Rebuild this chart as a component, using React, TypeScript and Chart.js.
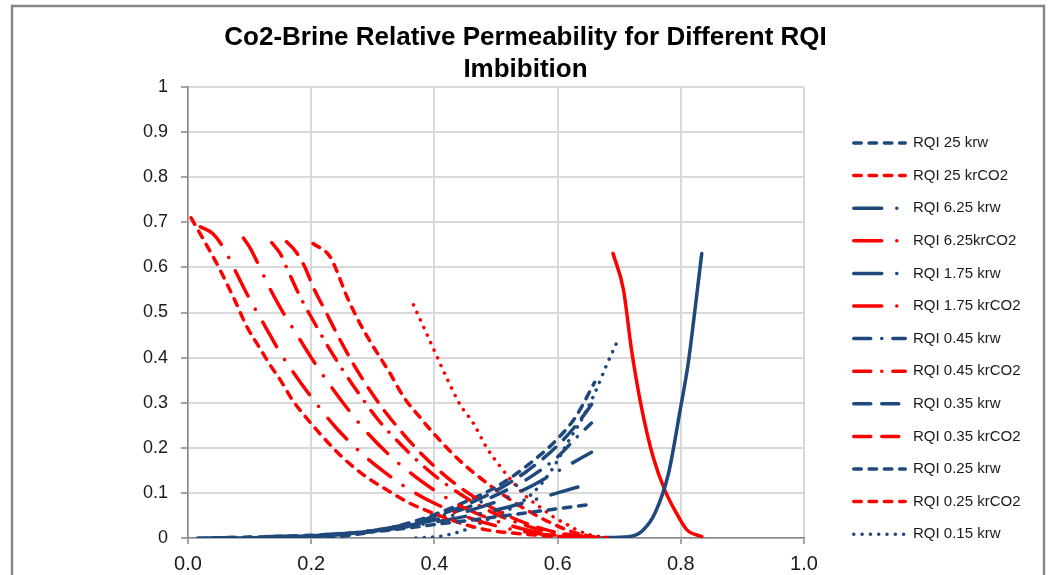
import React, { useEffect, useRef } from 'react';
import { Chart, registerables } from 'chart.js';

Chart.register(...registerables);

const titleLines = ['Co2-Brine Relative Permeability for Different RQI', 'Imbibition'];
const xTickLabels = ['0.0', '0.2', '0.4', '0.6', '0.8', '1.0'];
const yTickLabels = ['0', '0.1', '0.2', '0.3', '0.4', '0.5', '0.6', '0.7', '0.8', '0.9', '1'];

// RQI 25
const rqi25KrwX = [0.016, 0.1, 0.2, 0.3, 0.35, 0.4, 0.45, 0.5, 0.55, 0.6, 0.655];
const rqi25KrwY = [0, 0.002, 0.006, 0.014, 0.021, 0.03, 0.038, 0.047, 0.056, 0.065, 0.075];
const rqi25KrgX = [0.005, 0.03, 0.05, 0.075, 0.095, 0.117, 0.135, 0.15, 0.17, 0.19, 0.215, 0.25, 0.29, 0.325, 0.36, 0.4, 0.44, 0.485, 0.535, 0.59, 0.64, 0.68];
const rqi25KrgY = [0.71, 0.65, 0.6, 0.53, 0.47, 0.42, 0.38, 0.35, 0.305, 0.27, 0.23, 0.18, 0.135, 0.105, 0.077, 0.054, 0.034, 0.018, 0.01, 0.004, 0.002, 0.001];

// RQI 6.25
const rqi625KrwX = [0.03, 0.1, 0.2, 0.3, 0.35, 0.4, 0.45, 0.5, 0.55, 0.6, 0.655];
const rqi625KrwY = [0, 0.002, 0.006, 0.015, 0.024, 0.035, 0.048, 0.062, 0.08, 0.1, 0.122];
const rqi625KrgX = [0.02, 0.04, 0.057, 0.074, 0.1, 0.125, 0.15, 0.18, 0.21, 0.24, 0.28, 0.32, 0.36, 0.4, 0.45, 0.5, 0.55, 0.6, 0.66];
const rqi625KrgY = [0.69, 0.675, 0.645, 0.6, 0.53, 0.47, 0.41, 0.35, 0.295, 0.245, 0.19, 0.145, 0.107, 0.077, 0.048, 0.027, 0.013, 0.005, 0.001];

// RQI 1.75
const rqi175KrwX = [0.08, 0.15, 0.2, 0.25, 0.3, 0.35, 0.4, 0.45, 0.5, 0.55, 0.6, 0.655];
const rqi175KrwY = [0, 0.002, 0.005, 0.009, 0.016, 0.026, 0.04, 0.058, 0.08, 0.11, 0.148, 0.19];
const rqi175KrgX = [0.09, 0.1, 0.111, 0.13, 0.15, 0.175, 0.2, 0.23, 0.26, 0.29, 0.33, 0.37, 0.41, 0.45, 0.5, 0.55, 0.6, 0.66];
const rqi175KrgY = [0.665, 0.645, 0.616, 0.561, 0.51, 0.455, 0.4, 0.34, 0.285, 0.235, 0.18, 0.135, 0.097, 0.066, 0.038, 0.018, 0.006, 0.001];

// RQI 0.45
const rqi045KrwX = [0.12, 0.2, 0.25, 0.3, 0.35, 0.4, 0.45, 0.5, 0.55, 0.6, 0.63, 0.655];
const rqi045KrwY = [0, 0.004, 0.009, 0.017, 0.028, 0.045, 0.066, 0.095, 0.13, 0.18, 0.222, 0.255];
const rqi045KrgX = [0.136, 0.15, 0.16, 0.182, 0.2, 0.225, 0.25, 0.28, 0.31, 0.34, 0.38, 0.42, 0.46, 0.5, 0.55, 0.6, 0.66];
const rqi045KrgY = [0.655, 0.63, 0.6, 0.535, 0.49, 0.43, 0.375, 0.315, 0.26, 0.215, 0.162, 0.118, 0.082, 0.053, 0.027, 0.01, 0.001];

// RQI 0.35
const rqi035KrwX = [0.15, 0.2, 0.25, 0.3, 0.35, 0.4, 0.45, 0.5, 0.55, 0.6, 0.63, 0.66];
const rqi035KrwY = [0, 0.003, 0.008, 0.016, 0.029, 0.048, 0.073, 0.105, 0.148, 0.205, 0.25, 0.305];
const rqi035KrgX = [0.16, 0.175, 0.19, 0.203, 0.225, 0.247, 0.268, 0.295, 0.32, 0.35, 0.38, 0.42, 0.46, 0.5, 0.55, 0.6, 0.66];
const rqi035KrgY = [0.657, 0.635, 0.6, 0.557, 0.498, 0.439, 0.387, 0.328, 0.28, 0.23, 0.185, 0.135, 0.095, 0.062, 0.032, 0.012, 0.001];

// RQI 0.25
const rqi025KrwX = [0.2, 0.25, 0.3, 0.35, 0.4, 0.45, 0.5, 0.55, 0.6, 0.63, 0.66];
const rqi025KrwY = [0, 0.004, 0.014, 0.03, 0.052, 0.08, 0.113, 0.16, 0.22, 0.27, 0.345];
const rqi025KrgX = [0.203, 0.23, 0.241, 0.258, 0.279, 0.301, 0.328, 0.35, 0.375, 0.4, 0.44, 0.485, 0.52, 0.555, 0.59, 0.625, 0.66];
const rqi025KrgY = [0.653, 0.625, 0.594, 0.535, 0.476, 0.424, 0.365, 0.313, 0.27, 0.23, 0.173, 0.122, 0.088, 0.058, 0.033, 0.013, 0.002];

// RQI 0.15
const rqi015KrwX = [0.37, 0.41, 0.45, 0.485, 0.53, 0.56, 0.59, 0.62, 0.64, 0.66, 0.68, 0.7];
const rqi015KrwY = [0, 0.004, 0.018, 0.04, 0.07, 0.1, 0.15, 0.22, 0.265, 0.32, 0.385, 0.445];
const rqi015KrgX = [0.366, 0.398, 0.42, 0.442, 0.463, 0.485, 0.506, 0.53, 0.55, 0.575, 0.593, 0.615, 0.631, 0.65, 0.67];
const rqi015KrgY = [0.517, 0.421, 0.355, 0.295, 0.255, 0.2, 0.16, 0.12, 0.091, 0.065, 0.047, 0.03, 0.018, 0.008, 0.003];

// lowest-RQI pair (legend entry cut off in the original)
const rqiLowKrwX = [0.67, 0.685, 0.72, 0.739, 0.758, 0.78, 0.799, 0.812, 0.823, 0.834];
const rqiLowKrwY = [0, 0.001, 0.004, 0.018, 0.055, 0.143, 0.284, 0.387, 0.506, 0.631];
const rqiLowKrgX = [0.69, 0.707, 0.72, 0.737, 0.755, 0.774, 0.793, 0.81, 0.834];
const rqiLowKrgY = [0.631, 0.55, 0.417, 0.284, 0.18, 0.106, 0.055, 0.018, 0.003];

const BLUE = '#1F497D';
const RED = '#FF0000';
const SHORT_DASH = [7.5, 7.8];
const LONG_DASH_DOT = [28, 15, 0.1, 15];
const DASH_DOT = [17, 11, 0.1, 11];
const LONG_DASH = [17, 11];
const DOT = [0.1, 8.2];
const SOLID: number[] = [];
const LEGEND_COUNT = 13;

const pts = (xs: number[], ys: number[]) => xs.map((x, i) => ({ x, y: ys[i] }));

const mk = (label: string, xs: number[], ys: number[], color: string, dash: number[]) => ({
  label,
  data: pts(xs, ys),
  borderColor: color,
  backgroundColor: color,
  borderDash: dash,
  borderWidth: 3.5,
  borderCapStyle: 'round' as const,
  borderJoinStyle: 'round' as const,
  showLine: true,
  pointRadius: 0,
  pointHoverRadius: 0,
  cubicInterpolationMode: 'monotone' as const,
  fill: false,
});

const sideLegend = {
  id: 'sideLegend',
  afterDraw(chart: any) {
    const ctx = chart.ctx as CanvasRenderingContext2D;
    const ds = chart.data.datasets;
    ctx.save();
    for (let i = 0; i < LEGEND_COUNT; i++) {
      const d = ds[i];
      const y = 143 + i * 32.6;
      ctx.beginPath();
      ctx.setLineDash(d.borderDash || []);
      ctx.lineCap = 'round';
      ctx.lineWidth = 3.5;
      ctx.strokeStyle = d.borderColor;
      ctx.moveTo(853.75, y);
      ctx.lineTo(905.25, y);
      ctx.stroke();
      ctx.setLineDash([]);
      ctx.fillStyle = '#1a1a1a';
      ctx.font = '15px "Liberation Sans"';
      ctx.textAlign = 'left';
      ctx.textBaseline = 'middle';
      ctx.fillText(d.label, 913, y);
    }
    ctx.strokeStyle = '#878787';
    ctx.lineWidth = 2.5;
    ctx.strokeRect(12, 6, 1032, 620);
    ctx.restore();
  },
};

export default function App() {
  const ref = useRef<HTMLCanvasElement>(null);
  useEffect(() => {
    const datasets = [
      mk('RQI 25 krw', rqi25KrwX, rqi25KrwY, BLUE, SHORT_DASH),
      mk('RQI 25 krCO2', rqi25KrgX, rqi25KrgY, RED, SHORT_DASH),
      mk('RQI 6.25 krw', rqi625KrwX, rqi625KrwY, BLUE, LONG_DASH_DOT),
      mk('RQI 6.25krCO2', rqi625KrgX, rqi625KrgY, RED, LONG_DASH_DOT),
      mk('RQI 1.75 krw', rqi175KrwX, rqi175KrwY, BLUE, LONG_DASH_DOT),
      mk('RQI 1.75 krCO2', rqi175KrgX, rqi175KrgY, RED, LONG_DASH_DOT),
      mk('RQI 0.45 krw', rqi045KrwX, rqi045KrwY, BLUE, DASH_DOT),
      mk('RQI 0.45 krCO2', rqi045KrgX, rqi045KrgY, RED, DASH_DOT),
      mk('RQI 0.35 krw', rqi035KrwX, rqi035KrwY, BLUE, LONG_DASH),
      mk('RQI 0.35 krCO2', rqi035KrgX, rqi035KrgY, RED, LONG_DASH),
      mk('RQI 0.25 krw', rqi025KrwX, rqi025KrwY, BLUE, SHORT_DASH),
      mk('RQI 0.25 krCO2', rqi025KrgX, rqi025KrgY, RED, SHORT_DASH),
      mk('RQI 0.15 krw', rqi015KrwX, rqi015KrwY, BLUE, DOT),
      mk('RQI 0.15 krCO2', rqi015KrgX, rqi015KrgY, RED, DOT),
      mk('RQI 0.05 krw', rqiLowKrwX, rqiLowKrwY, BLUE, SOLID),
      mk('RQI 0.05 krCO2', rqiLowKrgX, rqiLowKrgY, RED, SOLID),
    ];
    const chart = new Chart(ref.current as HTMLCanvasElement, {
      type: 'scatter',
      data: { datasets: datasets as any },
      options: {
        animation: false,
        responsive: false,
        devicePixelRatio: 1,
        layout: { padding: { left: 0, right: 0, top: 0, bottom: 0 } },
        plugins: {
          legend: { display: false },
          tooltip: { enabled: false },
          title: {
            display: true,
            text: titleLines,
            color: '#000000',
            font: { family: '"Liberation Sans"', size: 26, weight: 'bold', lineHeight: '32px' } as any,
            padding: { top: 22, bottom: 1 },
          },
        },
        scales: {
          x: {
            type: 'linear',
            min: 0,
            max: 1,
            afterFit: (s: any) => { s.height = 37; },
            ticks: {
              stepSize: 0.2,
              padding: 8,
              color: '#1a1a1a',
              font: { family: '"Liberation Sans"', size: 20 },
              callback: (_v: any, i: number) => xTickLabels[i],
            },
            grid: { color: '#d9d9d9', lineWidth: 2, tickColor: '#868686', tickLength: 6, tickWidth: 1.5 },
            border: { color: '#868686', width: 1.5 },
          },
          y: {
            type: 'linear',
            min: 0,
            max: 1,
            afterFit: (s: any) => { s.width = 188; },
            ticks: {
              stepSize: 0.1,
              padding: 13,
              color: '#1a1a1a',
              font: { family: '"Liberation Sans"', size: 18 },
              callback: (_v: any, i: number) => yTickLabels[i],
            },
            grid: { color: '#d9d9d9', lineWidth: 2, tickColor: '#868686', tickLength: 7, tickWidth: 1.5 },
            border: { color: '#868686', width: 1.5 },
          },
          yRight: {
            type: 'linear',
            position: 'right',
            display: true,
            afterFit: (s: any) => { s.width = 247; },
            ticks: { display: false },
            grid: { display: false, drawTicks: false },
            border: { display: false },
          },
        },
      } as any,
      plugins: [sideLegend],
    });
    return () => chart.destroy();
  }, []);
  return (
    <div style={{ position: 'absolute', left: 0, top: 0, width: 1051, height: 575, background: '#ffffff' }}>
      <canvas ref={ref} width={1051} height={575} style={{ display: 'block', width: 1051, height: 575 }} />
    </div>
  );
}
